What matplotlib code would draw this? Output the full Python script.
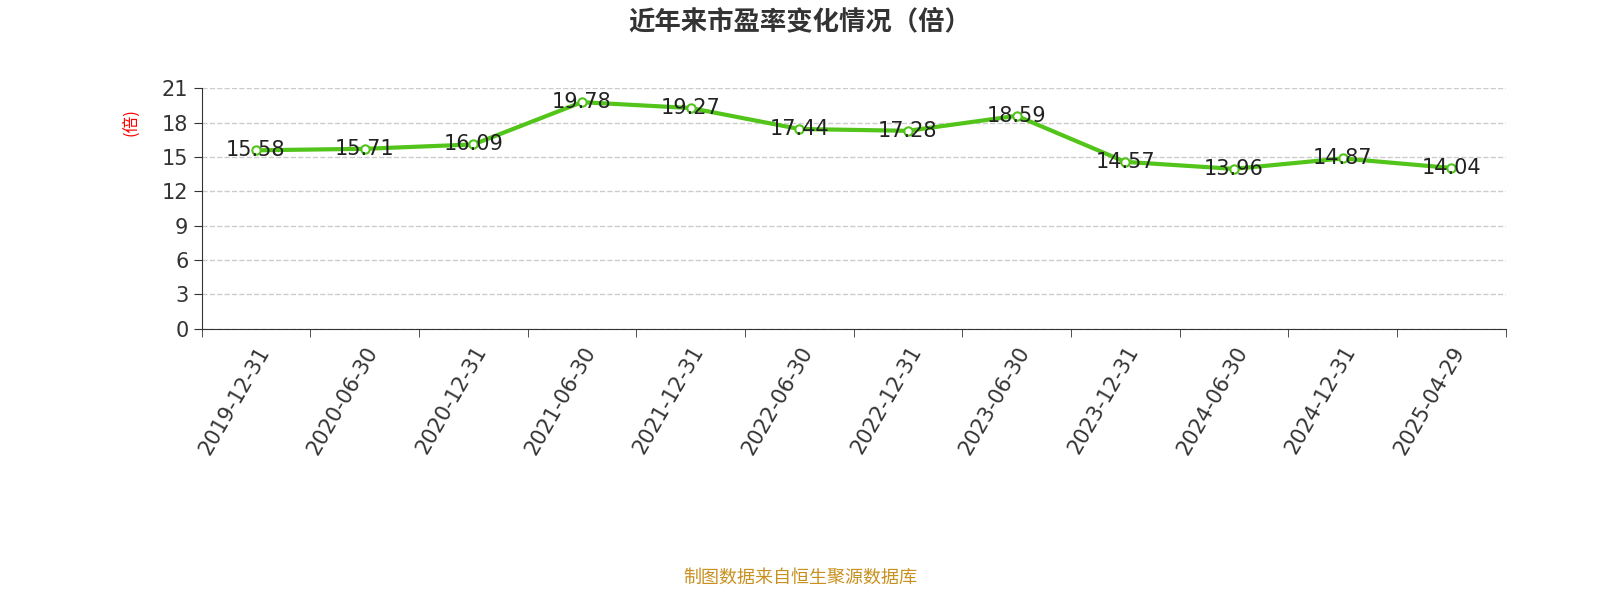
import matplotlib.pyplot as plt
import numpy as np

plt.rcParams['font.family'] = ['DejaVu Sans', 'Noto Sans CJK SC']

dates = ["2019-12-31", "2020-06-30", "2020-12-31", "2021-06-30", "2021-12-31", "2022-06-30",
         "2022-12-31", "2023-06-30", "2023-12-31", "2024-06-30", "2024-12-31", "2025-04-29"]
pe = [15.58, 15.71, 16.09, 19.78, 19.27, 17.44, 17.28, 18.59, 14.57, 13.96, 14.87, 14.04]
yticks = [0, 3, 6, 9, 12, 15, 18, 21]

fig = plt.figure(figsize=(16, 6), dpi=100)
ax = fig.add_axes([0.126, 0.452, 0.815, 0.401])
x = np.arange(len(dates))
ax.plot(x, pe, color='#52c41a', lw=3, marker='o', ms=6, mfc='white', mec='#52c41a', mew=1.5, zorder=3)
for xi, v in zip(x, pe):
    ax.text(xi, v, f"{v:.2f}", ha='center', va='center', fontsize=15, color='#222222', zorder=4)

ax.set_xlim(-0.5, len(dates) - 0.5)
ax.set_ylim(0, 21)
ax.set_yticks(yticks)
ax.set_yticklabels([str(t) for t in yticks], fontsize=15, color='#333333')
ax.set_xticks(x)
ax.set_xticklabels(dates, rotation=60, ha='right', rotation_mode='anchor', fontsize=15, color='#333333')
ax.tick_params(axis='x', length=0, pad=10)
ax.set_xticks(np.arange(-0.5, len(dates)), minor=True)
ax.tick_params(axis='x', which='minor', length=6, color='#333333')
ax.tick_params(axis='y', length=6, color='#333333')
ax.grid(axis='y', ls='--', color='#cccccc', lw=1)
for s in ['top', 'right']:
    ax.spines[s].set_visible(False)
for s in ['left', 'bottom']:
    ax.spines[s].set_color('#333333')
ax.set_ylabel('(倍)', color='red', fontsize=12, family=['Noto Sans CJK SC'])
ax.yaxis.set_label_coords(-0.048, 0.86)

fig.text(0.5, 0.963, '近年来市盈率变化情况（倍）', ha='center', va='center', fontsize=19,
         fontweight='bold', color='#333333', family=['Noto Sans CJK SC'])
fig.text(0.5, 0.038, '制图数据来自恒生聚源数据库', ha='center', va='center', fontsize=13,
         color='#c8901e', family=['Noto Sans CJK SC'])

fig.savefig('out.png')
